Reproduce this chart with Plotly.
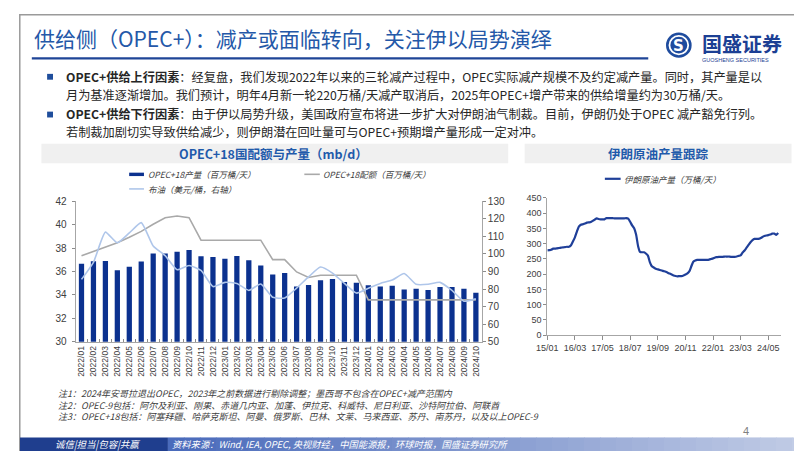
import plotly.graph_objects as go
import pandas as pd

W, H = 802, 451

# ---------------- data: left chart (OPEC+18 quota & production) ----------------
months = ["2022/01", "2022/02", "2022/03", "2022/04", "2022/05", "2022/06", "2022/07",
          "2022/08", "2022/09", "2022/10", "2022/11", "2022/12", "2023/01", "2023/02",
          "2023/03", "2023/04", "2023/05", "2023/06", "2023/07", "2023/08", "2023/09",
          "2023/10", "2023/11", "2023/12", "2024/01", "2024/02", "2024/03", "2024/04",
          "2024/05", "2024/06", "2024/07", "2024/08", "2024/09", "2024/10"]
opec_production = [36.65, 36.87, 36.90, 36.10, 36.40, 36.85, 37.54, 37.54, 37.68, 37.84,
                   37.29, 37.23, 37.09, 37.32, 36.96, 36.51, 35.74, 35.87, 34.71, 34.85,
                   35.24, 35.35, 35.10, 35.04, 34.82, 34.71, 34.79, 34.46, 34.52, 34.41,
                   34.68, 34.68, 34.52, 34.18]
opec_quota = [37.34, 37.70, 38.10, 38.45, 38.92, 39.42, 40.03, 40.59, 40.73, 40.59,
              38.67, 38.67, 38.67, 38.67, 38.67, 38.67, 37.01, 37.01, 35.96, 35.49,
              35.68, 35.68, 35.68, 35.68, 33.57, 33.57, 33.57, 33.57, 33.57, 33.57,
              33.57, 33.57, 33.57, 33.57]
brent_price = [85.5, 95.2, 112.4, 106.3, 111.9, 117.8, 104.5, 99.0, 91.0, 93.4,
               90.6, 81.4, 83.8, 83.2, 79.2, 82.9, 75.3, 74.9, 80.5, 86.9,
               92.5, 89.1, 83.2, 77.7, 80.5, 83.2, 85.1, 88.8, 82.7, 82.7,
               83.8, 79.2, 73.1, 74.4]
left_y_ticks = [30, 32, 34, 36, 38, 40, 42]
right_y_ticks = [50, 60, 70, 80, 90, 100, 110, 120, 130]

# ---------------- data: right chart (Iran crude production, monthly from 2015/01) ----------------
iran_start = "2015-01-01"
iran_production = [
    278, 279, 280, 284, 284, 285, 286, 287, 288, 289, 290, 290,   # 2015
    295, 308, 321, 340, 356, 362, 364, 366, 369, 370, 371, 375,   # 2016
    379, 383, 381, 380, 380, 380, 384, 384, 384, 384, 383, 383,   # 2017
    383, 383, 383, 383, 384, 382, 372, 360, 351, 330, 292, 273,   # 2018
    272, 272, 268, 261, 240, 226, 222, 218, 216, 214, 212, 210,   # 2019
    208, 205, 202, 199, 196, 194, 193, 194, 194, 196, 199, 203,   # 2020
    210, 227, 241, 245, 247, 247, 247, 247, 247, 247, 248, 250,   # 2021
    252, 255, 256, 257, 257, 257, 258, 258, 258, 257, 257, 257,   # 2022
    258, 260, 262, 271, 278, 287, 296, 305, 312, 316, 316, 316,   # 2023
    318, 322, 325, 327, 328, 330, 333, 333, 329, 335]             # 2024
iran_tick_dates = ["2015-01-01", "2016-03-01", "2017-05-01", "2018-07-01", "2019-09-01",
                   "2020-11-01", "2022-01-01", "2023-03-01", "2024-05-01"]
iran_tick_labels = ["15/01", "16/03", "17/05", "18/07", "19/09", "20/11", "22/01", "23/03", "24/05"]
iran_y_ticks = [0, 50, 100, 150, 200, 250, 300, 350, 400, 450]

iran_dates = pd.date_range(iran_start, periods=len(iran_production), freq="MS")


def X(px):
    return px / W


def Y(py):
    return 1 - py / H


CJK = "Noto Sans CJK SC"
NUM = "Liberation Sans"
AXIS_COL = "#A6A6A6"
TICK_FONT_COL = "#404040"

fig = go.Figure()

fig.add_trace(go.Bar(x=months, y=opec_production, marker=dict(color="#0B318F", line=dict(width=0)),
                     width=0.44, xaxis="x", yaxis="y", showlegend=False, name="OPEC+18产量"))
fig.add_trace(go.Scatter(x=months, y=opec_quota, mode="lines",
                         line=dict(color="#A9A9A9", width=1.6),
                         xaxis="x", yaxis="y", showlegend=False, name="OPEC+18配额"))
fig.add_trace(go.Scatter(x=months, y=brent_price, mode="lines",
                         line=dict(color="#AFC6EA", width=1.6, shape="spline", smoothing=0.5),
                         xaxis="x", yaxis="y2", showlegend=False, name="布油"))
fig.add_trace(go.Scatter(x=iran_dates, y=iran_production, mode="lines",
                         line=dict(color="#1F3F99", width=2.2, shape="spline", smoothing=0.6),
                         xaxis="x2", yaxis="y3", showlegend=False, name="伊朗原油产量"))

shapes = []
ann = []


def rect(x0, y0, x1, y1, color, layer="below", line_color=None, lw=0):
    shapes.append(dict(type="rect", xref="paper", yref="paper",
                       x0=X(x0), x1=X(x1), y0=Y(y1), y1=Y(y0),
                       fillcolor=color, line=dict(width=lw, color=line_color or color),
                       layer=layer))


def text(x, y, s, size, color, xanchor="left", family=CJK, yanchor="middle", italic=False, align="left"):
    f = dict(size=size, color=color, family=family)
    if italic:
        f["style"] = "italic"
    ann.append(dict(x=X(x), y=Y(y), xref="paper", yref="paper", text=s, showarrow=False,
                    xanchor=xanchor, yanchor=yanchor, font=f, align=align))


# slide border
shapes.append(dict(type="rect", xref="paper", yref="paper", x0=X(0.8), x1=X(800.5), y0=Y(450.5), y1=Y(0.8),
                   line=dict(color="#9A9A9A", width=1.5), fillcolor="rgba(0,0,0,0)", layer="below"))

# title and underline
text(13, 25, "供给侧（OPEC+）：减产或面临转向，关注伊以局势演绎", 21, "#2458A8")
shapes.append(dict(type="line", xref="paper", yref="paper", x0=X(13), x1=X(638), y0=Y(45.5), y1=Y(45.5),
                   line=dict(color="#1F4597", width=2.2)))

# logo
shapes.append(dict(type="circle", xref="paper", yref="paper", x0=X(656), x1=X(682), y0=Y(45), y1=Y(19),
                   fillcolor="#1F4C9E", line=dict(width=0)))
shapes.append(dict(type="circle", xref="paper", yref="paper", x0=X(659.5), x1=X(678.5), y0=Y(41.5), y1=Y(22.5),
                   fillcolor="rgba(0,0,0,0)", line=dict(width=1.8, color="white")))
text(669, 32.5, "<b>S</b>", 15, "white", xanchor="center", family="DejaVu Sans")
text(690, 30.5, "<b>国盛证券</b>", 20, "#1C3F94")
text(690, 47, "GUOSHENG SECURITIES", 5.5, "#1C3F94", family=NUM)

# bullets
rect(28.5, 61.5, 34.5, 67.5, "#1F4E9C", layer="above")
rect(28.5, 100.3, 34.5, 106.3, "#1F4E9C", layer="above")
BT = "#262626"
BS = 12.2
text(46, 64.8, "<b>OPEC+供给上行因素</b>：经复盘，我们发现2022年以来的三轮减产过程中，OPEC实际减产规模不及约定减产量。同时，其产量是以", BS, BT)
text(46, 83.2, "月为基准逐渐增加。我们预计，明年4月新一轮220万桶/天减产取消后，2025年OPEC+增产带来的供给增量约为30万桶/天。", BS, BT)
text(46, 103.2, "<b>OPEC+供给下行因素</b>：由于伊以局势升级，美国政府宣布将进一步扩大对伊朗油气制裁。目前，伊朗仍处于OPEC 减产豁免行列。", BS, BT)
text(46, 121.6, "若制裁加剧切实导致供给减少，则伊朗潜在回吐量可与OPEC+预期增产量形成一定对冲。", BS, BT)

# chart headers
rect(22.7, 133.3, 496, 153.3, "#F0F0F0")
rect(512.7, 133.3, 783.3, 153.3, "#F0F0F0")
text(258, 143.5, "<b>OPEC+18国配额与产量（mb/d）</b>", 12.5, "#1F5AAB", xanchor="center")
text(648, 143.5, "<b>伊朗原油产量跟踪</b>", 12.5, "#1F5AAB", xanchor="center")

# left legend (manual)
LG = "#404040"
rect(111.7, 163, 126.7, 166.5, "#0B318F", layer="above")
text(128.3, 164.7, "OPEC+18产量（百万桶/天）", 8.5, LG, italic=True)
shapes.append(dict(type="line", xref="paper", yref="paper", x0=X(289.3), x1=X(305), y0=Y(164.7), y1=Y(164.7),
                   line=dict(color="#A9A9A9", width=1.6)))
text(306.7, 164.7, "OPEC+18配额（百万桶/天）", 8.5, LG, italic=True)
shapes.append(dict(type="line", xref="paper", yref="paper", x0=X(111.7), x1=X(126.7), y0=Y(179.7), y1=Y(179.7),
                   line=dict(color="#AFC6EA", width=1.6)))
text(128.3, 179.7, "布油（美元/桶，右轴）", 8.5, LG, italic=True)

# right legend (manual)
shapes.append(dict(type="line", xref="paper", yref="paper", x0=X(594), x1=X(610), y0=Y(169.3), y1=Y(169.3),
                   line=dict(color="#1F3F99", width=2.2)))
text(611.7, 169.3, "伊朗原油产量（万桶/天）", 8.5, LG, italic=True)

# notes (one block so lines do not collide)
NT = "#404040"
text(38, 401.5,
     "注1：2024年安哥拉退出OPEC，2023年之前数据进行剔除调整；墨西哥不包含在OPEC+减产范围内"
     "<br>注2：OPEC-9包括：阿尔及利亚、刚果、赤道几内亚、加蓬、伊拉克、科威特、尼日利亚、沙特阿拉伯、阿联酋"
     "<br>注3：OPEC+18包括：阿塞拜疆、哈萨克斯坦、阿曼、俄罗斯、巴林、文莱、马来西亚、苏丹、南苏丹，以及以上OPEC-9",
     9, NT, italic=True)

# page number
text(737, 428, "4", 11, "#808080", xanchor="center", family=NUM)

# footer
rect(1, 435, 151, 449, "#1F3E8E")
c0 = (0x4A, 0x6B, 0xBB)
c1 = (0xC2, 0xCC, 0xE6)
n = 40
x_start, x_end = 151, 800
for i in range(n):
    t = i / (n - 1)
    col = "rgb(%d,%d,%d)" % tuple(int(c0[k] + (c1[k] - c0[k]) * t) for k in range(3))
    xa = x_start + (x_end - x_start) * i / n
    xb = x_start + (x_end - x_start) * (i + 1) / n + 0.6
    rect(xa, 435, min(xb, x_end), 449, col)
text(34, 442, "诚信|担当|包容|共赢", 9.5, "white", italic=True)
text(153, 442, "资料来源：Wind, IEA, OPEC, 央视财经，中国能源报，环球时报，国盛证券研究所", 9.3, "white", italic=True)

axis_common = dict(showgrid=False, zeroline=False, showline=True, linecolor=AXIS_COL, linewidth=1,
                   tickcolor="#8C8C8C", fixedrange=True)

fig.update_layout(
    width=W, height=H,
    margin=dict(l=0, r=0, t=0, b=0),
    paper_bgcolor="white", plot_bgcolor="rgba(0,0,0,0)",
    showlegend=False,
    bargap=0.55,
    shapes=shapes, annotations=ann,
    xaxis=dict(domain=[X(57.3), X(469.3)], type="category", range=[-0.5, 33.5], anchor="y",
               ticks="inside", tickson="boundaries", ticklen=3, tickangle=-90,
               tickfont=dict(size=8.5, family=NUM, color=TICK_FONT_COL), **axis_common),
    yaxis=dict(domain=[Y(336.7), Y(192.3)], range=[30, 42], tickvals=left_y_ticks, anchor="x",
               ticks="outside", ticklen=3, ticklabelstandoff=3,
               tickfont=dict(size=10, family=NUM, color=TICK_FONT_COL), **axis_common),
    yaxis2=dict(overlaying="y", side="right", range=[50, 130], tickvals=right_y_ticks, anchor="x",
                ticks="outside", ticklen=3,
                tickfont=dict(size=10, family=NUM, color=TICK_FONT_COL), **axis_common),
    xaxis2=dict(domain=[X(535.7), X(772.7)], type="date", range=["2015-01-01", "2024-11-15"], anchor="y3",
                tickvals=iran_tick_dates, ticktext=iran_tick_labels, ticks="outside", ticklen=4,
                tickfont=dict(size=9, family=NUM, color=TICK_FONT_COL), **axis_common),
    yaxis3=dict(domain=[Y(330), Y(189)], range=[0, 450], tickvals=iran_y_ticks, anchor="x2",
                ticks="outside", ticklen=3,
                tickfont=dict(size=9, family=NUM, color=TICK_FONT_COL), **axis_common),
)

fig.write_html("out.html")
